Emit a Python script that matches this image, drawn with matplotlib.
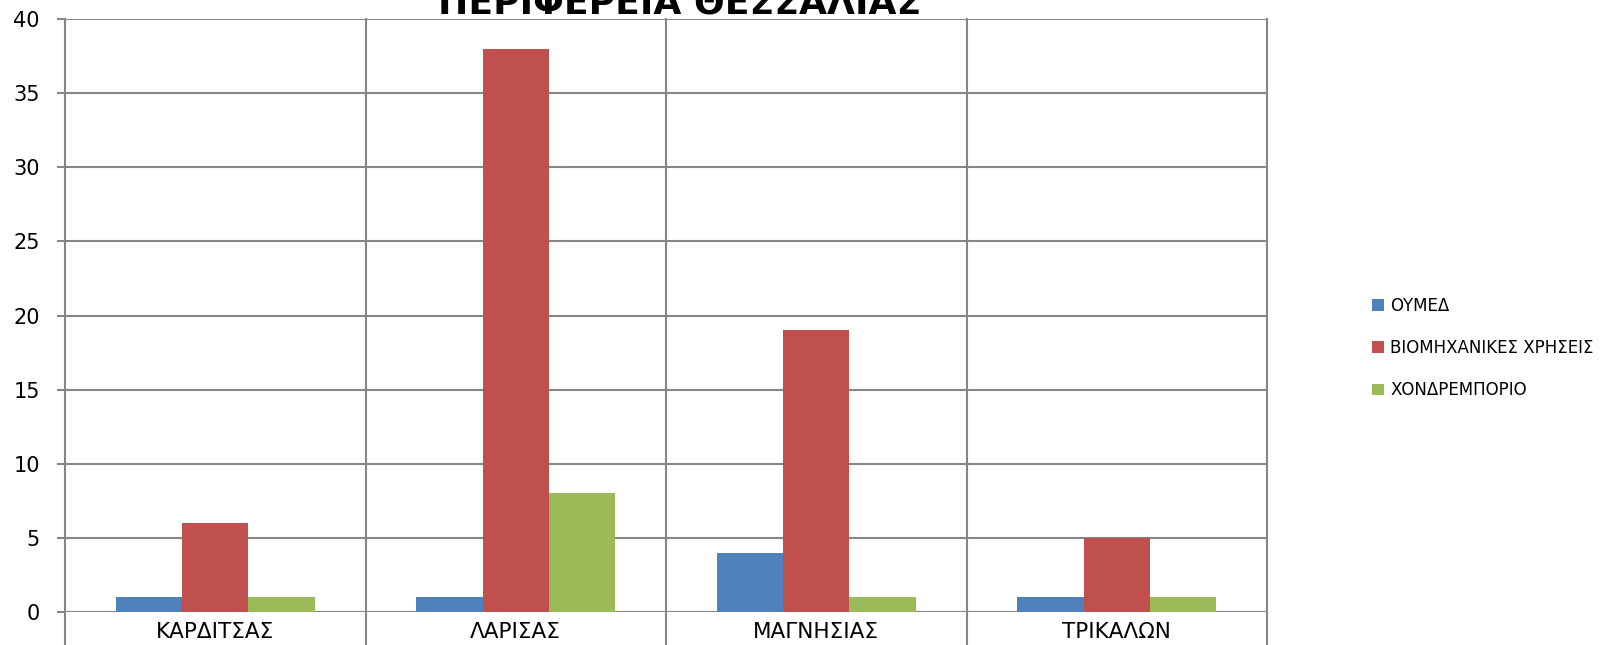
import numpy as np
import matplotlib.pyplot as plt

regions = ['ΚΑΡΔΙΤΣΑΣ', 'ΛΑΡΙΣΑΣ', 'ΜΑΓΝΗΣΙΑΣ', 'ΤΡΙΚΑΛΩΝ']
series_names = ['ΟΥΜΕΔ', 'ΒΙΟΜΗΧΑΝΙΚΕΣ ΧΡΗΣΕΙΣ', 'ΧΟΝΔΡΕΜΠΟΡΙΟ']
oymed = [1, 1, 4, 1]
industrial = [6, 38, 19, 5]
wholesale = [1, 8, 1, 1]
colors = ['#4F81BD', '#C0504D', '#9BBB59']
yticks = np.arange(0, 41, 5)

grid_col = '#868686'

fig = plt.figure(figsize=(16.07, 6.45), dpi=100)
# plot area in pixels: x 65..1267, y 19..612
ax = fig.add_axes([65 / 1607, 33 / 645, (1267 - 65) / 1607, 593 / 645])

x = np.arange(len(regions))
w = 0.221
for i, (vals, name) in enumerate(zip([oymed, industrial, wholesale], series_names)):
    ax.bar(x + (i - 1) * w, vals, width=w, color=colors[i], label=name, zorder=3)

ax.set_xlim(-0.5, len(regions) - 0.5)
ax.set_ylim(0, 40)
ax.set_yticks(yticks)
ax.set_xticks(x)
ax.set_xticklabels(regions)
for s in ax.spines.values():
    s.set_visible(False)
for yv in yticks:
    ax.axhline(yv, color=grid_col, lw=1.5, zorder=1)
# category separators run down past the axis to the bottom edge
for xv in np.arange(-0.5, len(regions), 1.0):
    ax.plot([xv, xv], [-2.6, 40], color=grid_col, lw=1.5, zorder=1, clip_on=False)

ax.tick_params(axis='y', length=6, width=1.5, color=grid_col, pad=12, labelsize=15)
ax.tick_params(axis='x', length=0, pad=7, labelsize=15.5)

# title sits mostly above the top edge, as in the original
fig.text(680 / 1607, 1 - 14 / 645, 'ΠΕΡΙΦΕΡΕΙΑ ΘΕΣΣΑΛΙΑΣ', ha='center', va='baseline',
         fontsize=26, fontweight='bold')

leg = fig.legend(loc='center left', bbox_to_anchor=(1372 / 1607, 1 - 348 / 645),
                 frameon=False, fontsize=12, handlelength=0.7, handleheight=0.7,
                 handletextpad=0.4, labelspacing=1.45, borderpad=0, borderaxespad=0)

fig.savefig('out.png', dpi=100)
